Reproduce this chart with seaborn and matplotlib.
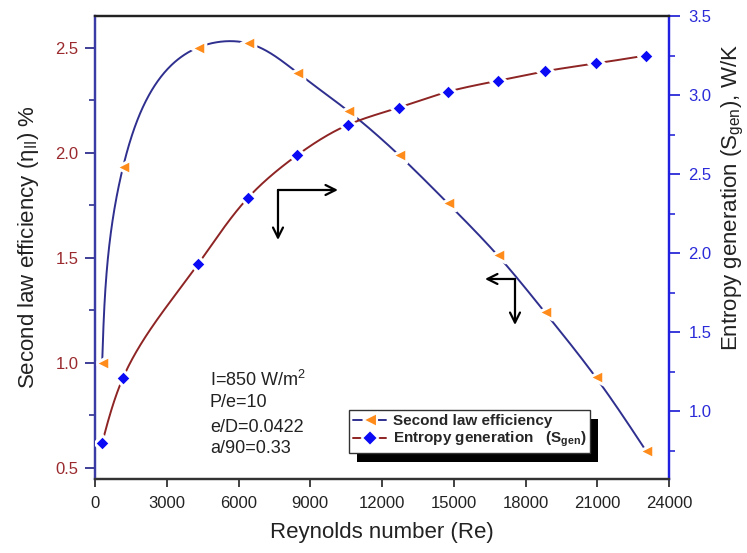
import numpy as np
import pandas as pd
import matplotlib
matplotlib.use("Agg")
import matplotlib.pyplot as plt
import seaborn as sns
from matplotlib.lines import Line2D
from matplotlib.patches import Rectangle
from matplotlib.ticker import MultipleLocator

# ---- data ----
reynolds = [300, 1170, 4310, 6400, 8460, 10560, 12690, 14740, 16840, 18810, 20940, 23040]
efficiency = [1.00, 1.93, 2.50, 2.52, 2.38, 2.20, 1.99, 1.76, 1.51, 1.24, 0.93, 0.58]
entropy = [0.80, 1.21, 1.93, 2.35, 2.62, 2.81, 2.92, 3.02, 3.09, 3.15, 3.20, 3.25]
x_ticks = [0, 3000, 6000, 9000, 12000, 15000, 18000, 21000, 24000]
left_ticks = [0.5, 1.0, 1.5, 2.0, 2.5]
right_ticks = [1.0, 1.5, 2.0, 2.5, 3.0, 3.5]
notes = ["I=850 W/m$^2$", "P/e=10", "e/D=0.0422", "a/90=0.33"]


def natural_spline(x, y, xs):
    x = np.asarray(x, float); y = np.asarray(y, float)
    n = len(x); h = np.diff(x)
    A = np.zeros((n, n)); b = np.zeros(n)
    A[0, 0] = 1; A[-1, -1] = 1
    for i in range(1, n - 1):
        A[i, i - 1] = h[i - 1]; A[i, i] = 2 * (h[i - 1] + h[i]); A[i, i + 1] = h[i]
        b[i] = 3 * ((y[i + 1] - y[i]) / h[i] - (y[i] - y[i - 1]) / h[i - 1])
    c = np.linalg.solve(A, b)
    bc = (y[1:] - y[:-1]) / h - h * (2 * c[:-1] + c[1:]) / 3
    d = (c[1:] - c[:-1]) / (3 * h)
    idx = np.clip(np.searchsorted(x, xs) - 1, 0, n - 2)
    dx = xs - x[idx]
    return y[idx] + bc[idx] * dx + c[idx] * dx ** 2 + d[idx] * dx ** 3


def param_spline(x, y, sx, sy, n=900):
    x = np.asarray(x, float); y = np.asarray(y, float)
    d = np.hypot(np.diff(x * sx), np.diff(y * sy))
    t = np.concatenate([[0.0], np.cumsum(d)])
    ts = np.linspace(0, t[-1], n)
    return natural_spline(t, x, ts), natural_spline(t, y, ts)


sns.set_theme(style="white")
plt.rcParams["font.family"] = ["Liberation Sans", "DejaVu Sans"]
plt.rcParams["mathtext.fontset"] = "custom"
plt.rcParams["mathtext.rm"] = "Liberation Sans"
plt.rcParams["mathtext.it"] = "Liberation Sans:italic"
plt.rcParams["mathtext.bf"] = "Liberation Sans:bold"

NAVY = "#2F2F8F"
DRED = "#8E2424"
ORANGE = "#FF8C1A"
BLUE = "#0A0AF5"
LTICK = "#9A2A2E"
RTICK = "#2A2AD8"

XL = (0, 24000)
YL1 = (0.446, 2.65)
YL2 = (0.57, 3.5)

fig = plt.figure(figsize=(7.47, 5.53), dpi=100)
ax = fig.add_axes([95 / 747, 1 - 479 / 553, 574 / 747, 463 / 553])
ax2 = ax.twinx()

sx = 574 / (XL[1] - XL[0])
ex, ey = param_spline(reynolds, efficiency, sx, 463 / (YL1[1] - YL1[0]))
gx, gy = param_spline(reynolds, entropy, sx, 463 / (YL2[1] - YL2[0]))
df_eff = pd.DataFrame({"Re": ex, "val": ey})
df_ent = pd.DataFrame({"Re": gx, "val": gy})

sns.lineplot(data=df_eff, x="Re", y="val", ax=ax, color=NAVY, lw=1.4, zorder=2,
             sort=False, estimator=None)
sns.scatterplot(x=reynolds, y=efficiency, ax=ax, marker="<", s=110, color=ORANGE,
                edgecolor="white", linewidth=2.2, zorder=3)
sns.lineplot(data=df_ent, x="Re", y="val", ax=ax2, color=DRED, lw=1.4, zorder=2,
             sort=False, estimator=None)
sns.scatterplot(x=reynolds, y=entropy, ax=ax2, marker="D", s=65, color=BLUE,
                edgecolor="white", linewidth=2.2, zorder=3)

ax.set_xlim(*XL)
ax.set_ylim(*YL1)
ax2.set_ylim(*YL2)
ax.set_xticks(x_ticks)
ax.set_xticklabels([str(t) for t in x_ticks])
ax.set_yticks(left_ticks)
ax.set_yticklabels([f"{t:.1f}" for t in left_ticks])
ax2.set_yticks(right_ticks)
ax2.set_yticklabels([f"{t:.1f}" for t in right_ticks])
ax.yaxis.set_minor_locator(MultipleLocator(0.25))
ax2.yaxis.set_minor_locator(MultipleLocator(0.25))

ax.tick_params(axis="x", direction="out", length=6, width=1.3, colors="#333333",
               labelsize=12, labelcolor="#222222", pad=6, bottom=True)
ax.tick_params(axis="y", which="major", direction="out", length=7, width=1.3,
               color=NAVY, labelcolor=LTICK, labelsize=12, pad=5, left=True)
ax.tick_params(axis="y", which="minor", direction="out", length=4, width=1.2,
               color=NAVY, left=True)
ax2.tick_params(axis="y", which="major", direction="out", length=8, width=1.3,
                color=RTICK, labelcolor=RTICK, labelsize=12, pad=6, right=True)
ax2.tick_params(axis="y", which="minor", direction="out", length=4, width=1.2,
                color=RTICK, right=True)

for a in (ax, ax2):
    a.grid(False)
    a.spines["top"].set_color("#222222")
    a.spines["bottom"].set_color("#333333")
    a.spines["left"].set_color("#3B3BA6")
    a.spines["right"].set_color("#2020E0")
    for s in a.spines.values():
        s.set_linewidth(1.6)

ax.set_xlabel("Reynolds number (Re)", fontsize=16, color="#222222", labelpad=8)
ax.set_ylabel(r"Second law efficiency ($\mathrm{\eta_{II}}$) %", fontsize=16,
              color="#222222", labelpad=10)
ax2.set_ylabel(r"Entropy generation (S$_{\mathrm{gen}}$), W/K", fontsize=16, color="#222222")
ax2.yaxis.set_label_coords(1.088, 0.607)

# notes
ys = [0.2138, 0.1642, 0.1123, 0.0648]
for t, yy in zip(notes, ys):
    ax2.text(0.200, yy, t, transform=ax.transAxes, fontsize=13, color="#222222",
             va="center", ha="left")

# arrows
arr = dict(arrowstyle="->", color="black", lw=1.6, mutation_scale=18, shrinkA=0, shrinkB=0)
c1 = (0.3188, 0.6242)
ax2.annotate("", xy=(0.4233, c1[1]), xytext=c1, xycoords="axes fraction",
             textcoords="axes fraction", arrowprops=arr)
ax2.annotate("", xy=(c1[0], 0.5162), xytext=c1, xycoords="axes fraction",
             textcoords="axes fraction", arrowprops=arr)
c2 = (0.7317, 0.4320)
ax2.annotate("", xy=(0.6794, c2[1]), xytext=c2, xycoords="axes fraction",
             textcoords="axes fraction", arrowprops=arr)
ax2.annotate("", xy=(c2[0], 0.3326), xytext=c2, xycoords="axes fraction",
             textcoords="axes fraction", arrowprops=arr)

# legend
h1 = Line2D([], [], color=NAVY, lw=1.4, marker="<", markersize=10, markerfacecolor=ORANGE,
            markeredgecolor="white", markeredgewidth=1.5)
h2 = Line2D([], [], color=DRED, lw=1.4, marker="D", markersize=8, markerfacecolor=BLUE,
            markeredgecolor="white", markeredgewidth=1.5)
leg = ax2.legend([h1, h2], ["Second law efficiency",
                            r"Entropy generation   ($\mathbf{S_{gen}}$)"],
                 loc="lower left", bbox_to_anchor=(0.4425, 0.056), borderaxespad=0,
                 prop={"weight": "bold", "size": 11}, frameon=True, fancybox=False,
                 framealpha=1, facecolor="white",
                 edgecolor="#333333", handlelength=2.2, handletextpad=0.4,
                 labelspacing=0.12, borderpad=0.25)
leg.get_frame().set_linewidth(1.0)
leg.set_zorder(10)

fig.canvas.draw()
bb = leg.get_window_extent()
shadow = Rectangle((bb.x0 + 8, bb.y0 - 9), bb.width, bb.height, transform=None,
                   facecolor="black", edgecolor="none", zorder=9, clip_on=False)
ax2.add_artist(shadow)

fig.savefig("out.png", dpi=100)
